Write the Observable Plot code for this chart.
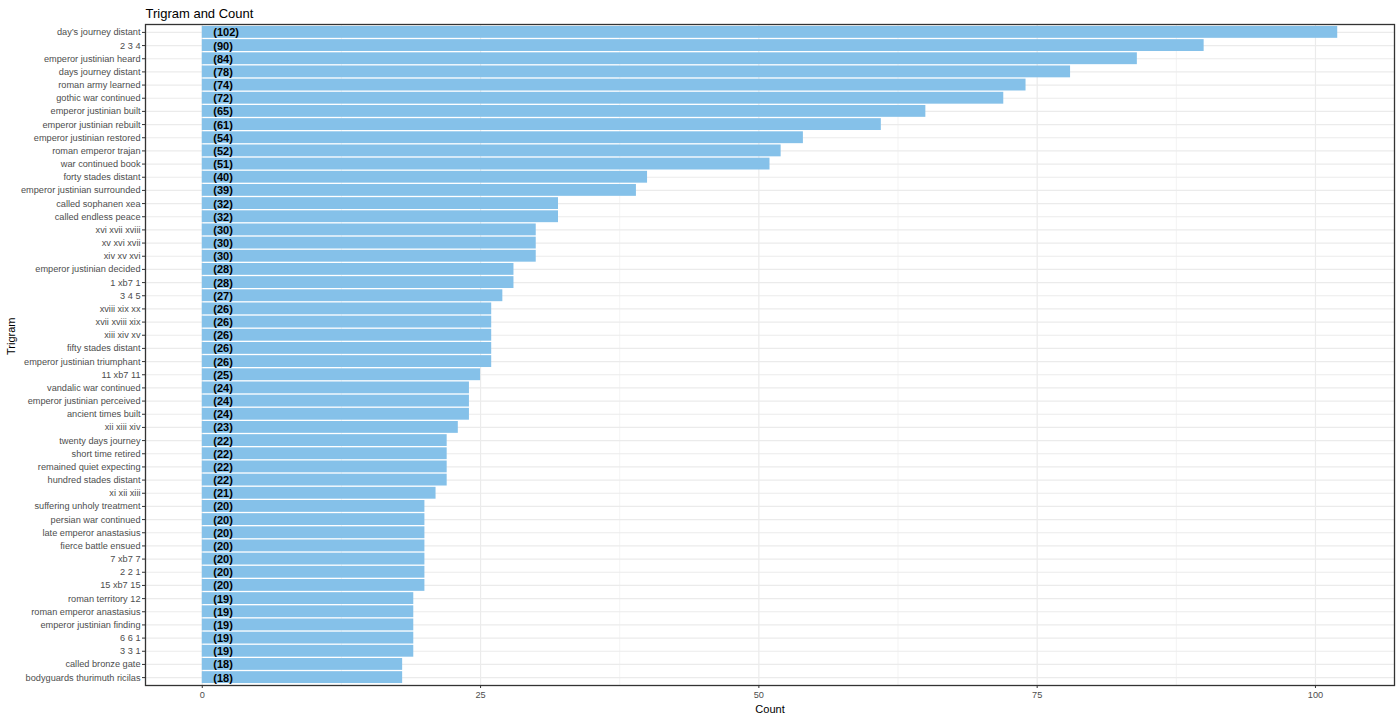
<!DOCTYPE html>
<html>
<head>
<meta charset="utf-8">
<script src="https://cdn.jsdelivr.net/npm/d3@7"></script>
<script src="https://cdn.jsdelivr.net/npm/@observablehq/plot@0.6"></script>
<style>
  html, body { margin: 0; padding: 0; background: #ffffff; }
  #chart svg { display: block; font-family: "Liberation Sans", Arial, sans-serif; }
  g[aria-label="y-axis tick label"], g[aria-label="x-axis tick label"] { fill: #4d4d4d; font-size: 9.2px; }
  g[aria-label="y-axis tick"], g[aria-label="x-axis tick"] { stroke: #333333; }
</style>
</head>
<body>
<div id="chart"></div>
<script>
const trigrams = [
  "day’s journey distant", "2 3 4", "emperor justinian heard", "days journey distant",
  "roman army learned", "gothic war continued", "emperor justinian built", "emperor justinian rebuilt",
  "emperor justinian restored", "roman emperor trajan", "war continued book", "forty stades distant",
  "emperor justinian surrounded", "called sophanen xea", "called endless peace", "xvi xvii xviii",
  "xv xvi xvii", "xiv xv xvi", "emperor justinian decided", "1 xb7 1",
  "3 4 5", "xviii xix xx", "xvii xviii xix", "xiii xiv xv",
  "fifty stades distant", "emperor justinian triumphant", "11 xb7 11", "vandalic war continued",
  "emperor justinian perceived", "ancient times built", "xii xiii xiv", "twenty days journey",
  "short time retired", "remained quiet expecting", "hundred stades distant", "xi xii xiii",
  "suffering unholy treatment", "persian war continued", "late emperor anastasius", "fierce battle ensued",
  "7 xb7 7", "2 2 1", "15 xb7 15", "roman territory 12",
  "roman emperor anastasius", "emperor justinian finding", "6 6 1", "3 3 1",
  "called bronze gate", "bodyguards thurimuth ricilas"
];
const counts = [
  102, 90, 84, 78,
  74, 72, 65, 61,
  54, 52, 51, 40,
  39, 32, 32, 30,
  30, 30, 28, 28,
  27, 26, 26, 26,
  26, 26, 25, 24,
  24, 24, 23, 22,
  22, 22, 22, 21,
  20, 20, 20, 20,
  20, 20, 20, 19,
  19, 19, 19, 19,
  18, 18
];
const xTicks = [0, 25, 50, 75, 100];
const xMinorTicks = [12.5, 37.5, 62.5, 87.5];
const titleText = "Trigram and Count";
const xLabel = "Count";
const yLabel = "Trigram";

const data = trigrams.map((t, i) => ({trigram: t, count: counts[i]}));

const font = "\"Liberation Sans\", Arial, sans-serif";

const chart = Plot.plot({
  width: 1400,
  height: 720,
  marginLeft: 145,
  marginRight: 6,
  marginTop: 24,
  marginBottom: 35,
  style: {fontFamily: font, background: "#ffffff", color: "#000000"},
  x: {domain: [-5.1, 107.1], label: null},
  y: {domain: trigrams, paddingInner: 0.1, paddingOuter: 0.15, round: false, label: null},
  marks: [
    Plot.gridX(xMinorTicks, {stroke: "#ebebeb", strokeOpacity: 1, strokeWidth: 0.6}),
    Plot.gridX(xTicks, {stroke: "#ebebeb", strokeOpacity: 1, strokeWidth: 1.2}),
    Plot.gridY({stroke: "#ebebeb", strokeOpacity: 1, strokeWidth: 1.2}),
    Plot.barX(data, {x1: 0, x2: "count", y: "trigram", fill: "#85C1E9"}),
    Plot.text(data, {
      x: 0, y: "trigram", text: d => `(${d.count})`,
      textAnchor: "start", dx: 11, dy: 0.5,
      fontWeight: "bold", fontSize: 11, fill: "#000000"
    }),
    Plot.frame({stroke: "#333333", strokeWidth: 1.3}),
    Plot.axisY({tickSize: 3, tickPadding: 2, label: null, fontSize: 9.2}),
    Plot.axisX(xTicks, {tickSize: 3, tickPadding: 3, label: null, fontSize: 9.2, tickFormat: d => String(d)}),
    Plot.text([titleText], {
      frameAnchor: "top-left", text: d => d, textAnchor: "start", lineAnchor: "bottom",
      dy: -7, dx: 0, fontSize: 13, fill: "#000000"
    }),
    Plot.text([xLabel], {
      frameAnchor: "bottom", text: d => d, lineAnchor: "bottom",
      dy: 27, fontSize: 11, fill: "#000000"
    }),
    Plot.text([yLabel], {
      frameAnchor: "left", text: d => d, rotate: -90,
      dx: -134, fontSize: 11, fill: "#000000"
    })
  ]
});

document.getElementById("chart").appendChild(chart);
</script>
</body>
</html>
